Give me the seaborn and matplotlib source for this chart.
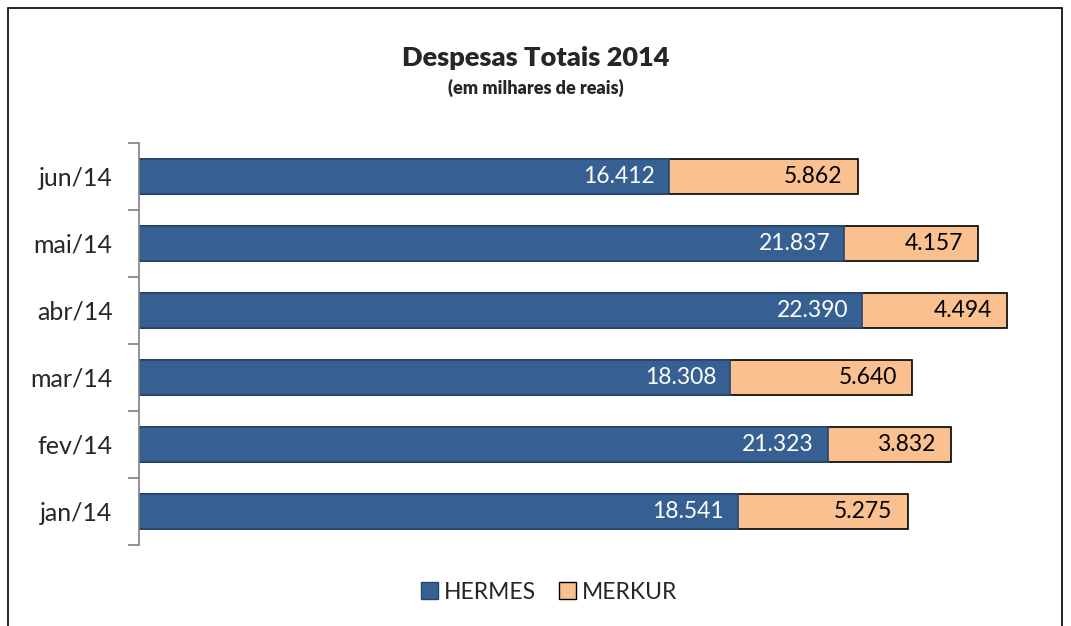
import pandas as pd
import matplotlib.pyplot as plt
import seaborn as sns
from matplotlib.patches import Rectangle, Patch

meses = ['jun/14', 'mai/14', 'abr/14', 'mar/14', 'fev/14', 'jan/14']
hermes = [16412, 21837, 22390, 18308, 21323, 18541]
merkur = [5862, 4157, 4494, 5640, 3832, 5275]

df = pd.DataFrame({'mes': meses, 'HERMES': hermes, 'MERKUR': merkur})
df['total'] = df['HERMES'] + df['MERKUR']

sns.set_style('white')
plt.rcParams['font.family'] = ['Lato', 'DejaVu Sans']

azul = '#376092'
laranja = '#FAC090'

fig = plt.figure(figsize=(10.71, 6.26), dpi=100)
ax = fig.add_axes([0.1298, 0.1294, 0.8442, 0.6422])

sns.barplot(data=df, y='mes', x='total', order=meses, orient='h', color=laranja,
            edgecolor='black', linewidth=1.2, width=0.52, saturation=1, ax=ax)
sns.barplot(data=df, y='mes', x='HERMES', order=meses, orient='h', color=azul,
            edgecolor='#26466d', linewidth=1.2, width=0.52, saturation=1, ax=ax)

def fmt(v):
    return f'{v:,}'.replace(',', '.')

for i, row in df.iterrows():
    ax.text(row['HERMES'] - 430, i, fmt(row['HERMES']), color='white',
            ha='right', va='center', fontsize=16.5)
    ax.text(row['total'] - 480, i, fmt(row['MERKUR']), color='black',
            ha='right', va='center', fontsize=16.5)

ax.set_xlim(0, 28000)
ax.set_ylim(len(meses) - 0.5, -0.5)
ax.set_xlabel('')
ax.set_ylabel('')
ax.set_xticks([])
for s in ['top', 'right', 'bottom']:
    ax.spines[s].set_visible(False)
ax.spines['left'].set_color('#808080')
ax.spines['left'].set_linewidth(1.2)
ax.set_yticks(range(len(meses)))
ax.set_yticklabels(meses, fontsize=18)
ax.set_yticks([k - 0.5 for k in range(len(meses) + 1)], minor=True)
ax.tick_params(axis='y', which='major', length=0, pad=19)
ax.tick_params(axis='y', which='minor', length=8, width=1.2, color='#808080', left=True)

fig.text(0.5, 0.907, 'Despesas Totais 2014', ha='center', va='center',
         fontsize=19.5, fontweight='heavy')
fig.text(0.5, 0.859, '(em milhares de reais)', ha='center', va='center',
         fontsize=13, fontweight='heavy')

handles = [Patch(facecolor=azul, edgecolor='#26466d', label='HERMES'),
           Patch(facecolor=laranja, edgecolor='black', label='MERKUR')]
fig.legend(handles=handles, loc='center', bbox_to_anchor=(0.513, 0.054), ncol=2,
           frameon=False, fontsize=16.5, handlelength=0.75, handleheight=0.75,
           handletextpad=0.25, columnspacing=1.0)

fig.patches.append(Rectangle((8 / 1071, -0.02), 1054 / 1071, 1.007, transform=fig.transFigure,
                             fill=False, edgecolor='black', linewidth=1.2))

fig.savefig('out.png', dpi=100)
